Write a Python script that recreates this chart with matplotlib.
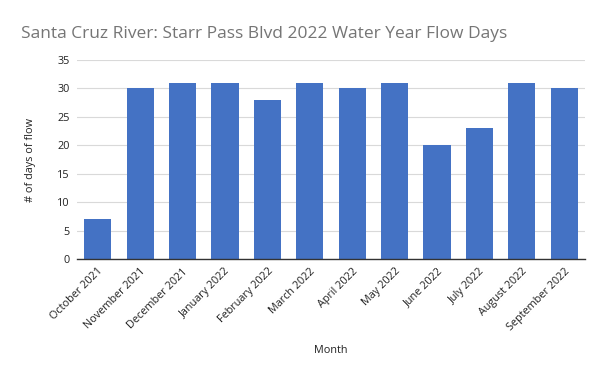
import matplotlib
matplotlib.use("Agg")
import matplotlib.pyplot as plt

months = ["October 2021", "November 2021", "December 2021", "January 2022",
          "February 2022", "March 2022", "April 2022", "May 2022",
          "June 2022", "July 2022", "August 2022", "September 2022"]
flow_days = [7, 30, 31, 31, 28, 31, 30, 31, 20, 23, 31, 30]
yticks = [0, 5, 10, 15, 20, 25, 30, 35]

plt.rcParams['font.family'] = ['Open Sans', 'DejaVu Sans']

fig = plt.figure(figsize=(6, 3.72), dpi=100)
ax = fig.add_axes([0.1275, 0.3038, 0.8483, 0.5349])

x = list(range(len(months)))
ax.bar(x, flow_days, width=0.64, color="#4472c4", zorder=3)
ax.set_xlim(-0.5, len(months) - 0.5)
ax.set_ylim(0, 35)
ax.set_yticks(yticks)
ax.set_yticklabels([str(v) for v in yticks], fontsize=7.8, color="#222222")
ax.set_xticks(x)
ax.set_xticklabels(months, rotation=45, ha="right", va="top",
                   rotation_mode="anchor", fontsize=7.8, color="#222222")
ax.tick_params(length=0, pad=5)
ax.grid(axis="y", color="#d9d9d9", linewidth=0.8, zorder=0)
for s in ["top", "right", "left"]:
    ax.spines[s].set_visible(False)
ax.spines["bottom"].set_color("#333333")
ax.spines["bottom"].set_linewidth(1.0)
ax.spines["bottom"].set_zorder(4)

fig.text(0.035, 0.908, "Santa Cruz River: Starr Pass Blvd 2022 Water Year Flow Days",
         fontsize=12.5, color="#757575", ha="left", va="center")
fig.text(0.05, 0.57, "# of days of flow", rotation=90, fontsize=7.8,
         color="#222222", ha="center", va="center")
fig.text(0.552, 0.059, "Month", fontsize=7.8, color="#222222",
         ha="center", va="center")

fig.savefig("out.png", dpi=100)
